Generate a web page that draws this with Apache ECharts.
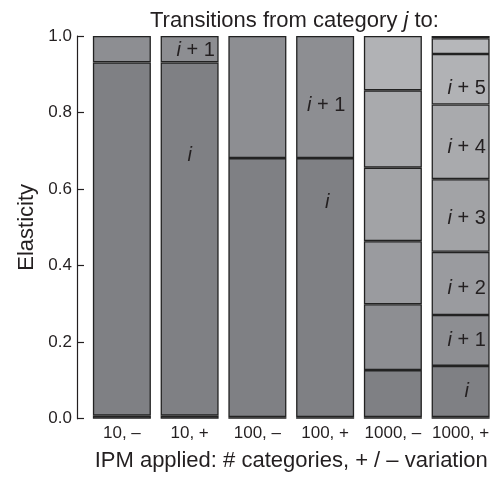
<!DOCTYPE html>
<html>
<head>
<meta charset="utf-8">
<script src="https://cdn.jsdelivr.net/npm/echarts@6/dist/echarts.min.js"></script>
<style>html,body{margin:0;padding:0;background:#fff;}#c{width:502px;height:477px;}</style>
</head>
<body>
<div id="c"></div>
<script>
// Categories (IPM applied: # categories, +/- variation)
const categories = ['10, –', '10, +', '100, –', '100, +', '1000, –', '1000, +'];
// Segment heights (elasticity share) per transition target, stacked bottom to top
const seg_im1 = [0.008, 0.008, 0.004, 0.004, 0.004, 0.004];
const seg_i   = [0.923, 0.923, 0.677, 0.677, 0.123, 0.134];
const seg_i1  = [0.069, 0.069, 0.319, 0.319, 0.172, 0.133];
const seg_i2  = [null, null, null, null, 0.165, 0.165];
const seg_i3  = [null, null, null, null, 0.192, 0.190];
const seg_i4  = [null, null, null, null, 0.202, 0.195];
const seg_i5  = [null, null, null, null, 0.142, 0.132];
const seg_i6  = [null, null, null, null, null, 0.041];
const seg_i7  = [null, null, null, null, null, 0.006];
const yTicks = [0, 0.2, 0.4, 0.6, 0.8, 1.0];

const seriesDefs = [
  {name: 'i-1', data: seg_im1, color: '#4a4a4c', text: null},
  {name: 'i',   data: seg_i,   color: '#7f8084', text: '{it|i}'},
  {name: 'i+1', data: seg_i1,  color: '#8d8e92', text: '{it|i} + 1'},
  {name: 'i+2', data: seg_i2,  color: '#9a9b9f', text: '{it|i} + 2'},
  {name: 'i+3', data: seg_i3,  color: '#a2a3a6', text: '{it|i} + 3'},
  {name: 'i+4', data: seg_i4,  color: '#a9aaad', text: '{it|i} + 4'},
  {name: 'i+5', data: seg_i5,  color: '#b1b2b5', text: '{it|i} + 5'},
  {name: 'i+6', data: seg_i6,  color: '#b6b7ba', text: null},
  {name: 'i+7', data: seg_i7,  color: '#2a2a2a', text: null}
];
// label placement: series name -> {categoryIndex: [dx, dy]}
const labelPlacement = {
  'i':   {1: [0, -84], 3: [2, -85], 5: [6, 0]},
  'i+1': {1: [6, 1],   3: [1, 8],   5: [6, 0]},
  'i+2': {5: [6, 5]},
  'i+3': {5: [6, 3]},
  'i+4': {5: [6, 6]},
  'i+5': {5: [6, 9]}
};

const FONT = 'Liberation Sans, Arial, Helvetica, sans-serif';
const series = seriesDefs.map(function (d) {
  const place = labelPlacement[d.name] || {};
  return {
    name: d.name,
    type: 'bar',
    stack: 'all',
    barWidth: 58,
    itemStyle: {color: d.color, borderColor: '#222222', borderWidth: 1.3},
    emphasis: {disabled: true},
    data: d.data.map(function (v, ci) {
      const item = {value: v == null ? '-' : v};
      if (d.text && place[ci] && v != null) {
        item.label = {
          show: true, position: 'inside', offset: place[ci],
          formatter: d.text, color: '#231f20', fontSize: 20, fontFamily: FONT,
          rich: {it: {fontStyle: 'italic', fontSize: 20, fontFamily: FONT, color: '#231f20'}}
        };
      }
      return item;
    })
  };
});

const chart = echarts.init(document.getElementById('c'), null, {renderer: 'canvas'});
chart.setOption({
  animation: false,
  backgroundColor: '#ffffff',
  title: {
    text: 'Transitions from category {it|j} to:',
    left: 145, top: 5,
    textStyle: {
      fontSize: 22, fontWeight: 'normal', color: '#231f20', fontFamily: FONT,
      rich: {it: {fontStyle: 'italic', fontSize: 22, fontFamily: FONT, color: '#231f20'}}
    }
  },
  grid: {left: 88, right: 7.5, top: 36, bottom: 58.3},
  xAxis: {
    type: 'category',
    data: categories,
    axisLine: {show: false},
    axisTick: {show: false},
    axisLabel: {color: '#231f20', fontSize: 17, fontFamily: FONT, margin: 6, interval: 0},
    name: 'IPM applied: # categories, + / – variation',
    nameLocation: 'middle',
    nameGap: 31,
    nameTextStyle: {color: '#231f20', fontSize: 22, fontFamily: FONT}
  },
  yAxis: {
    type: 'value',
    min: yTicks[0], max: yTicks[yTicks.length - 1], interval: 0.2,
    offset: 11,
    axisLine: {show: true, lineStyle: {color: '#231f20', width: 1.2}},
    axisTick: {show: true, inside: true, length: 7, lineStyle: {color: '#231f20', width: 1.2}},
    splitLine: {show: false},
    axisLabel: {color: '#231f20', fontSize: 17, fontFamily: FONT, margin: 5,
      formatter: function (v) { return v.toFixed(1); }},
    name: 'Elasticity',
    nameLocation: 'middle',
    nameGap: 39,
    nameTextStyle: {color: '#231f20', fontSize: 22, fontFamily: FONT}
  },
  series: series
});
</script>
</body>
</html>
